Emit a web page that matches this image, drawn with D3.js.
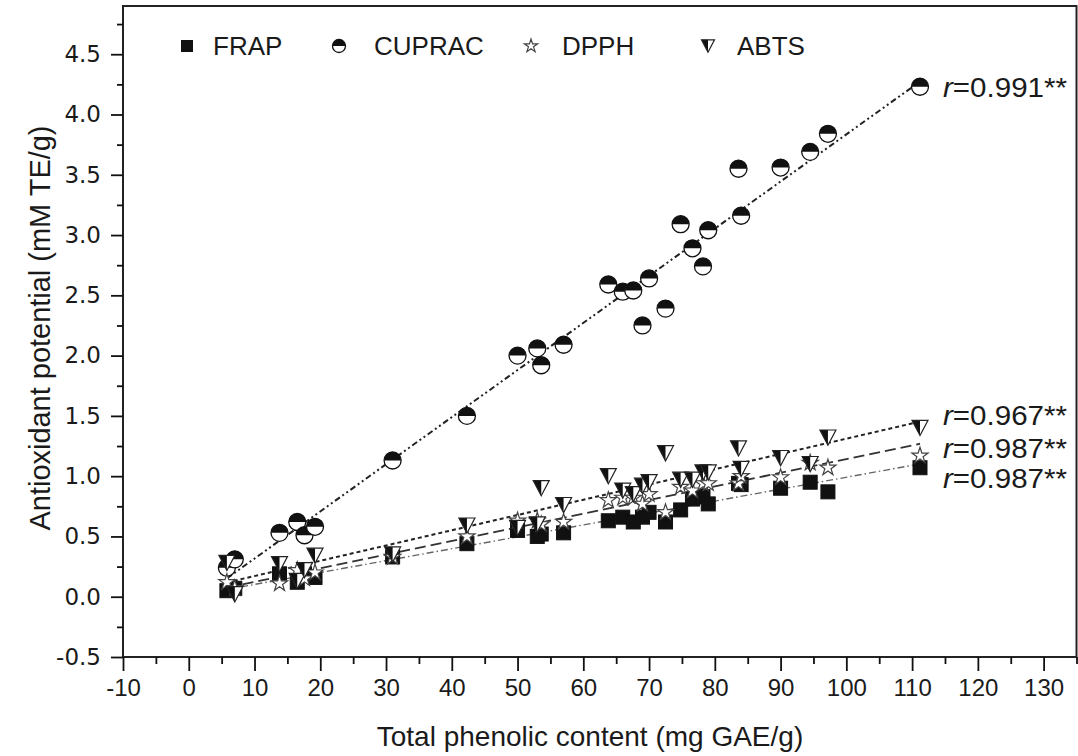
<!DOCTYPE html>
<html>
<head>
<meta charset="utf-8">
<script src="https://cdn.jsdelivr.net/npm/d3@7"></script>
<style>
    body { margin: 0; background: #fff; }
    text { font-family: Arial, "Liberation Sans", sans-serif; fill: #1a1a1a; }
</style>
</head>
<body>
<svg id="chart" width="1078" height="756"></svg>
<script>
// total phenolic content of each sample (x)
var tpc = [5.8, 7.0, 13.8, 16.5, 17.6, 19.2, 31.0, 42.3, 50.0, 53.0, 53.6, 57.0, 63.8, 66.0,
    67.6, 69.0, 70.0, 72.5, 74.8, 76.6, 78.2, 79.0, 83.6, 84.0, 90.0, 94.5, 97.2, 111.2];

var frap = [0.05, 0.07, 0.19, 0.12, 0.19, 0.16, 0.33, 0.44, 0.55, 0.50, 0.52, 0.53, 0.63, 0.66,
    0.62, 0.66, 0.70, 0.62, 0.72, 0.81, 0.83, 0.77, 0.94, 0.93, 0.90, 0.95, 0.87, 1.07];
var cuprac = [0.24, 0.31, 0.53, 0.62, 0.51, 0.58, 1.13, 1.50, 2.00, 2.06, 1.92, 2.09, 2.59, 2.53,
    2.54, 2.25, 2.64, 2.39, 3.09, 2.89, 2.74, 3.04, 3.55, 3.16, 3.56, 3.69, 3.84, 4.23];
var dpph = [0.12, 0.07, 0.11, 0.22, 0.15, 0.20, 0.33, 0.50, 0.63, 0.63, 0.60, 0.62, 0.80, 0.82,
    0.82, 0.77, 0.85, 0.70, 0.91, 0.88, 0.94, 0.94, 0.94, 1.00, 0.99, 1.11, 1.07, 1.17];
var abts = [0.28, 0.02, 0.27, 0.13, 0.22, 0.34, 0.35, 0.59, 0.57, 0.60, 0.90, 0.76, 1.00, 0.88,
    0.85, 0.92, 0.95, 1.19, 0.97, 0.97, 1.03, 1.03, 1.23, 1.06, 1.15, 1.10, 1.32, 1.40];

var legendNames = ["FRAP", "CUPRAC", "DPPH", "ABTS"];
var rLabels = ["0.987**", "0.991**", "0.987**", "0.967**"];

var xMajor = d3.range(-10, 131, 10);
var xMinor = d3.range(-5, 136, 10);
var yMajor = d3.range(-0.5, 4.51, 0.5);
var yMinor = d3.range(-0.25, 4.8, 0.5);

var margin = {top: 6, right: 1.5, bottom: 99, left: 123},
    width = 1078 - margin.left - margin.right,
    height = 756 - margin.top - margin.bottom;

var x = d3.scaleLinear().domain([-10, 135]).range([0, width]);
var y = d3.scaleLinear().domain([-0.5, 4.9]).range([height, 0]);

var svg = d3.select('#chart');
var main = svg.append('g')
    .attr('transform', 'translate(' + margin.left + ',' + margin.top + ')');

// marker drawers
function drawSquare(g, s) {
    g.append('rect').attr('x', -s / 2).attr('y', -s / 2).attr('width', s).attr('height', s)
        .attr('fill', '#111').attr('stroke', '#111').attr('stroke-width', 1);
}
function drawHalfCircle(g, r) {
    g.append('circle').attr('r', r).attr('fill', '#fff');
    g.append('path')
        .attr('d', 'M' + (-r) + ',0 A' + r + ',' + r + ' 0 0,1 ' + r + ',0 Z')
        .attr('fill', '#111');
    g.append('circle').attr('r', r).attr('fill', 'none').attr('stroke', '#111').attr('stroke-width', 1.3);
}
function drawStar(g, r) {
    g.append('path')
        .attr('d', d3.symbol().type(d3.symbolStar).size(r * r / 0.8908)())
        .attr('fill', '#fff').attr('stroke', '#444').attr('stroke-width', 1.2);
}
function drawTriangle(g, s) {
    var h = s * 0.95;
    var tri = 'M' + (-s / 2) + ',' + (-h / 2) + 'L' + (s / 2) + ',' + (-h / 2) + 'L0,' + (h / 2) + 'Z';
    g.append('path').attr('d', tri).attr('fill', '#fff');
    g.append('path')
        .attr('d', 'M' + (-s / 2) + ',' + (-h / 2) + 'L0,' + (-h / 2) + 'L0,' + (h / 2) + 'Z')
        .attr('fill', '#111');
    g.append('path').attr('d', tri)
        .attr('fill', 'none').attr('stroke', '#222').attr('stroke-width', 1.2);
}

var series = [
    {name: legendNames[0], values: frap, draw: drawSquare, size: 14, legendSize: 11,
        dash: '7,3,1.5,3', stroke: '#666', sw: 1.4, label: rLabels[0], labelY: 488},
    {name: legendNames[1], values: cuprac, draw: drawHalfCircle, size: 8.5, legendSize: 6.5,
        dash: '6,3,2,3,2,3', stroke: '#222', sw: 2, label: rLabels[1], labelY: 97},
    {name: legendNames[2], values: dpph, draw: drawStar, size: 8.5, legendSize: 7,
        dash: '11,5', stroke: '#333', sw: 2, label: rLabels[2], labelY: 458},
    {name: legendNames[3], values: abts, draw: drawTriangle, size: 16, legendSize: 13,
        dash: '4,3', stroke: '#222', sw: 2, label: rLabels[3], labelY: 425}
];

// least squares fit lines
var x0 = d3.min(tpc), x1 = d3.max(tpc);
series.forEach(function (s) {
    var mx = d3.mean(tpc), my = d3.mean(s.values);
    var num = 0, den = 0;
    tpc.forEach(function (xv, i) {
        num += (xv - mx) * (s.values[i] - my);
        den += (xv - mx) * (xv - mx);
    });
    var b = num / den, a = my - b * mx;
    main.append('line')
        .attr('x1', x(x0)).attr('y1', y(a + b * x0))
        .attr('x2', x(x1)).attr('y2', y(a + b * x1))
        .attr('stroke', s.stroke)
        .attr('stroke-width', s.sw)
        .attr('stroke-dasharray', s.dash);
});

// points
series.forEach(function (s) {
    main.append('g').selectAll('g')
        .data(tpc.map(function (xv, i) { return [xv, s.values[i]]; }))
        .enter().append('g')
        .attr('transform', function (d) {
            return 'translate(' + x(d[0]) + ',' + y(d[1]) + ')';
        })
        .each(function () { s.draw(d3.select(this), s.size); });
});

// frame
main.append('rect')
    .attr('width', width).attr('height', height)
    .attr('fill', 'none').attr('stroke', '#222').attr('stroke-width', 2);

// axes
function styleAxis(g) {
    g.select('.domain').remove();
    g.selectAll('line').attr('stroke', '#111').attr('stroke-width', 1.8);
    g.selectAll('text').attr('fill', '#222');
}
main.append('g').attr('transform', 'translate(0,' + height + ')')
    .call(d3.axisBottom(x).tickValues(xMajor).tickSize(14).tickPadding(8)
        .tickFormat(function (d) { return String(d); }))
    .call(styleAxis)
    .selectAll('text').attr('font-size', '24px');
main.append('g').attr('transform', 'translate(0,' + height + ')')
    .call(d3.axisBottom(x).tickValues(xMinor).tickSize(7).tickFormat(''))
    .call(styleAxis);
main.append('g')
    .call(d3.axisLeft(y).tickValues(yMajor).tickSize(12).tickPadding(10)
        .tickFormat(function (d) { return d.toFixed(1); }))
    .call(styleAxis)
    .selectAll('text')
    .style('font-family', '"DejaVu Sans", sans-serif')
    .attr('font-size', '23px');
main.append('g')
    .call(d3.axisLeft(y).tickValues(yMinor).tickSize(6).tickFormat(''))
    .call(styleAxis);

// axis titles
svg.append('text')
    .attr('x', 590).attr('y', 746)
    .attr('text-anchor', 'middle').attr('font-size', '28px')
    .text('Total phenolic content (mg GAE/g)');
svg.append('text')
    .attr('transform', 'translate(50,328) rotate(-90)')
    .attr('text-anchor', 'middle').attr('font-size', '30px')
    .attr('textLength', 405).attr('lengthAdjust', 'spacingAndGlyphs')
    .text('Antioxidant potential (mM TE/g)');

// legend
var legendX = [187, 339, 531, 708];
var legendTextX = [213, 374, 562, 737];
var legend = svg.append('g').attr('transform', 'translate(0,46)');
series.forEach(function (s, i) {
    var lg = legend.append('g').attr('transform', 'translate(' + legendX[i] + ',0)');
    s.draw(lg, s.legendSize);
    legend.append('text').attr('x', legendTextX[i]).attr('y', 9)
        .attr('font-size', '26px').text(s.name);
});

// correlation labels
series.forEach(function (s) {
    var t = svg.append('text')
        .attr('x', 943).attr('y', s.labelY)
        .attr('font-size', '27px')
        .attr('textLength', 124)
        .attr('lengthAdjust', 'spacingAndGlyphs');
    t.append('tspan').attr('font-style', 'italic').text('r');
    t.append('tspan').text('=' + s.label);
});
</script>
</body>
</html>
